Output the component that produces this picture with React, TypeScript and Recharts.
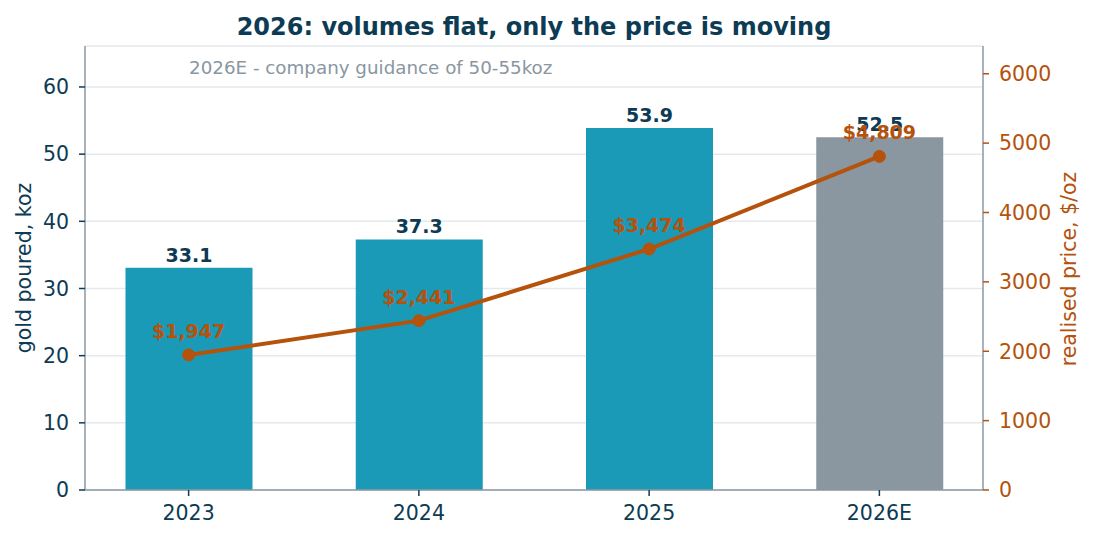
import React from 'react';
import { ComposedChart, Bar, Line, XAxis, YAxis, CartesianGrid, LabelList, Cell } from 'recharts';

const categories = ['2023', '2024', '2025', '2026E'];
const volumesKoz = [33.1, 37.3, 53.9, 52.5];
const pricesUsd = [1947, 2441, 3474, 4809];
const priceLabels = ['$1,947', '$2,441', '$3,474', '$4,809'];
const leftTicks = [0, 10, 20, 30, 40, 50, 60];
const rightTicks = [0, 1000, 2000, 3000, 4000, 5000, 6000];

const NAVY = '#0d3b54';
const TEAL = '#1b9ab8';
const GREY_BAR = '#8a96a0';
const ORANGE = '#b5520c';
const AXIS = '#8c98a2';
const GRID = '#e4e9ed';
const FONT = '"DejaVu Sans", sans-serif';

const data = categories.map((c, i) => ({
  idx: i,
  cat: c,
  vol: volumesKoz[i],
  price: pricesUsd[i],
  priceLabel: priceLabels[i],
}));

const W = 1094;
const H = 540;

const BarValueLabel = (props: any) => {
  const { x, y, width, value } = props;
  return (
    <text x={x + width / 2} y={y - 6} textAnchor="middle" fill={NAVY} fontSize={19} fontWeight="bold" fontFamily={FONT}>
      {Number(value).toFixed(1)}
    </text>
  );
};

const PriceLabel = (props: any) => {
  const { x, y, index } = props;
  return (
    <text x={x} y={y - 17} textAnchor="middle" fill={ORANGE} fontSize={19} fontWeight="bold" fontFamily={FONT}>
      {priceLabels[index]}
    </text>
  );
};

export default function App() {
  return (
    <div style={{ position: 'absolute', left: 0, top: 0, width: W, height: H, background: '#fff', fontFamily: FONT }}>
      <ComposedChart width={W} height={H} data={data} margin={{ top: 46, right: 0, bottom: 0, left: 0 }}>
        <CartesianGrid yAxisId="left" vertical={false} stroke={GRID} strokeWidth={1.5} />
        <XAxis
          dataKey="idx"
          type="number"
          domain={[-0.45, 3.45]}
          ticks={[0, 1, 2, 3]}
          tickFormatter={(v: number) => categories[v] ?? ''}
          height={50}
          stroke={AXIS}
          strokeWidth={1.5}
          tickLine={{ stroke: NAVY, strokeWidth: 1.5 }}
          tickSize={6}
          tickMargin={9}
          tick={{ fill: NAVY, fontSize: 20.5, fontFamily: FONT }}
          allowDataOverflow
        />
        <YAxis
          yAxisId="left"
          orientation="left"
          width={85}
          domain={[0, 66.1]}
          ticks={leftTicks}
          allowDataOverflow
          stroke={AXIS}
          strokeWidth={1.5}
          tickLine={{ stroke: NAVY, strokeWidth: 1.5 }}
          tickSize={6}
          tickMargin={10}
          tick={{ fill: NAVY, fontSize: 20.5, fontFamily: FONT }}
        />
        <YAxis
          yAxisId="right"
          orientation="right"
          width={111}
          domain={[0, 6400]}
          ticks={rightTicks}
          allowDataOverflow
          stroke={AXIS}
          strokeWidth={1.5}
          tickLine={{ stroke: ORANGE, strokeWidth: 1.5 }}
          tickSize={6}
          tickMargin={10}
          tick={{ fill: ORANGE, fontSize: 20.5, fontFamily: FONT, textAnchor: 'start' }}
        />
        <Bar yAxisId="left" dataKey="vol" barSize={127} isAnimationActive={false}>
          {data.map((d, i) => (
            <Cell key={d.cat} fill={i === 3 ? GREY_BAR : TEAL} />
          ))}
          <LabelList dataKey="vol" content={BarValueLabel} />
        </Bar>
        <Line
          yAxisId="right"
          dataKey="price"
          stroke={ORANGE}
          strokeWidth={4}
          dot={{ r: 6, fill: ORANGE, stroke: ORANGE, strokeWidth: 1 }}
          activeDot={false}
          isAnimationActive={false}
        >
          <LabelList dataKey="price" content={PriceLabel} />
        </Line>
      </ComposedChart>
      <svg width={W} height={H} style={{ position: 'absolute', left: 0, top: 0, pointerEvents: 'none' }}>
        <text x={534} y={35} textAnchor="middle" fill={NAVY} fontSize={24} fontWeight="bold" fontFamily={FONT}>
          2026: volumes flat, only the price is moving
        </text>
        <text x={189} y={74} textAnchor="start" fill={GREY_BAR} fontSize={18.3} fontFamily={FONT}>
          2026E - company guidance of 50-55koz
        </text>
        <text x={31} y={268} transform="rotate(-90 31 268)" textAnchor="middle" fill={NAVY} fontSize={20.5} fontFamily={FONT}>
          gold poured, koz
        </text>
        <text x={1076} y={269} transform="rotate(-90 1076 269)" textAnchor="middle" fill={ORANGE} fontSize={20.5} fontFamily={FONT}>
          realised price, $/oz
        </text>
      </svg>
    </div>
  );
}
